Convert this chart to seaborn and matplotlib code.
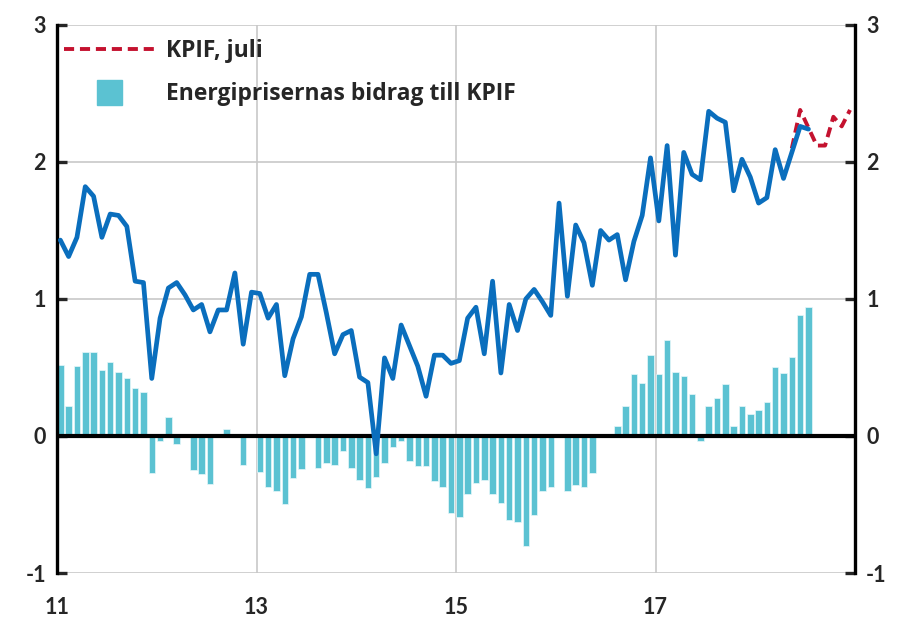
import numpy as np
import pandas as pd
import matplotlib
matplotlib.use("Agg")
import matplotlib.pyplot as plt
import seaborn as sns
from matplotlib.lines import Line2D

# --- data, monthly Jan 2011 - Jul 2018 ---
kpif = [1.43, 1.31, 1.45, 1.82, 1.75, 1.45, 1.62, 1.61, 1.53, 1.13, 1.12, 0.42,
        0.86, 1.08, 1.12, 1.03, 0.92, 0.96, 0.76, 0.92, 0.92, 1.19, 0.67, 1.05,
        1.04, 0.86, 0.96, 0.44, 0.71, 0.87, 1.18, 1.18, 0.90, 0.60, 0.74, 0.77,
        0.43, 0.39, -0.13, 0.57, 0.42, 0.81, 0.66, 0.51, 0.29, 0.59, 0.59, 0.53,
        0.55, 0.86, 0.94, 0.60, 1.13, 0.46, 0.96, 0.77, 1.00, 1.07, 0.98, 0.88,
        1.70, 1.02, 1.54, 1.41, 1.10, 1.50, 1.43, 1.47, 1.14, 1.42, 1.61, 2.03,
        1.57, 2.12, 1.32, 2.07, 1.91, 1.87, 2.37, 2.32, 2.29, 1.79, 2.02, 1.89,
        1.70, 1.74, 2.09, 1.88, 2.07, 2.26, 2.24]

energy = [0.52, 0.22, 0.51, 0.61, 0.61, 0.48, 0.54, 0.47, 0.42, 0.35, 0.32, -0.27,
          -0.04, 0.14, -0.06, 0.0, -0.25, -0.28, -0.35, 0.0, 0.05, 0.0, -0.21, 0.0,
          -0.26, -0.37, -0.40, -0.50, -0.31, -0.24, 0.0, -0.23, -0.20, -0.21, -0.11, -0.23,
          -0.32, -0.38, -0.30, -0.20, -0.08, -0.04, -0.18, -0.22, -0.22, -0.33, -0.37, -0.56,
          -0.59, -0.42, -0.34, -0.32, -0.42, -0.49, -0.61, -0.63, -0.80, -0.58, -0.40, -0.37,
          0.0, -0.40, -0.36, -0.37, -0.27, 0.0, 0.0, 0.07, 0.22, 0.45, 0.39, 0.59,
          0.45, 0.70, 0.47, 0.44, 0.31, -0.04, 0.22, 0.28, 0.38, 0.07, 0.22, 0.16,
          0.19, 0.25, 0.50, 0.46, 0.58, 0.88, 0.94]

# July forecast path, May 2018 - Dec 2018 (month index 88..95)
forecast_start = 88
kpif_juli = [2.10, 2.38, 2.25, 2.12, 2.12, 2.33, 2.26, 2.38]

xtick_years = [2011, 2013, 2015, 2017, 2019]
xtick_labels = ["11", "13", "15", "17", ""]
yticks = [-1, 0, 1, 2, 3]

# month -> decimal year (placed in the middle of the bar)
x_hist = 2011 + (np.arange(len(kpif)) + 0.4) / 12
x_fc = 2011 + (np.arange(forecast_start, forecast_start + len(kpif_juli)) + 0.4) / 12

df = pd.DataFrame({"x": x_hist, "kpif": kpif, "energy": energy})
df_fc = pd.DataFrame({"x": x_fc, "kpif": kpif_juli})

blue = "#0A6EBD"
cyan = "#5BC2D2"
red = "#C4122F"

sns.set_style("white")
plt.rcParams["font.family"] = ["Lato", "DejaVu Sans"]

fig = plt.figure(figsize=(8.97, 6.26), dpi=100)
ax = fig.add_axes([57 / 897, 1 - 573 / 626, 798 / 897, 548 / 626])

# bars
ax.bar(df["x"], df["energy"], width=0.78 / 12, color=cyan,
       edgecolor="#e8f7fa", linewidth=0.5, zorder=2)

# lines
sns.lineplot(data=df, x="x", y="kpif", ax=ax, color=blue, linewidth=3.4,
             zorder=4, legend=False)
sns.lineplot(data=df_fc, x="x", y="kpif", ax=ax, color=red, linewidth=2.8,
             linestyle=(0, (2.6, 1.5)), zorder=3, legend=False)

ax.axhline(0, color="black", linewidth=3, zorder=3)

ax.set_xlim(2011, 2019)
ax.set_ylim(-1, 3)
ax.set_xticks(xtick_years)
ax.set_xticklabels(xtick_labels)
ax.set_yticks(yticks)
ax.set_yticklabels([str(t) for t in yticks])
ax.set_xlabel("")
ax.set_ylabel("")

ax.grid(True, color="#c8c8c8", linewidth=1.2)
ax.set_axisbelow(True)

for side in ["top", "bottom"]:
    ax.spines[side].set_visible(False)
for side in ["left", "right"]:
    ax.spines[side].set_visible(True)
    ax.spines[side].set_color("black")
    ax.spines[side].set_linewidth(2.4)

ax.tick_params(axis="y", direction="in", length=7, width=2.4, left=True,
               right=True, labelleft=True, labelright=True, pad=8,
               labelsize=15.5)
ax.tick_params(axis="x", length=0, pad=17, labelsize=15.5)
for lab in ax.get_xticklabels() + ax.get_yticklabels():
    lab.set_fontweight("bold")
for t in ax.yaxis.get_major_ticks():
    t.label2.set_fontweight("bold")

handles = [
    Line2D([0], [0], color=red, linewidth=2.8, linestyle=(0, (2.6, 1.5))),
    Line2D([0], [0], color=cyan, marker="s", markersize=18, linestyle="none"),
]
leg = ax.legend(handles, ["KPIF, juli", "Energiprisernas bidrag till KPIF"],
                loc="upper left", bbox_to_anchor=(0.009, 0.975), frameon=False,
                prop={"family": ["Open Sans", "DejaVu Sans"], "size": 16.5,
                      "weight": "bold"},
                handlelength=3.9, handletextpad=0.55, labelspacing=0.85,
                borderpad=0, borderaxespad=0)

fig.savefig("out.png", dpi=100)
